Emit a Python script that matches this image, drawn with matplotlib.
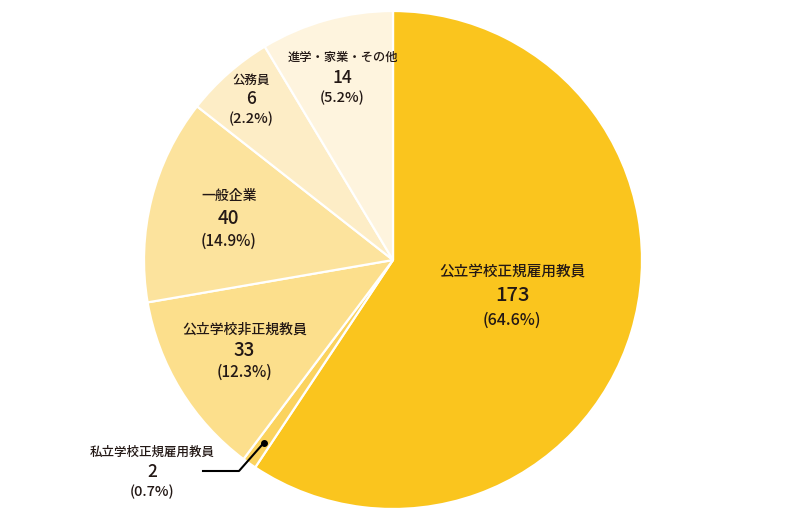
import numpy as np
import matplotlib
matplotlib.use('Agg')
import matplotlib.pyplot as plt

plt.rcParams['font.family'] = ['Noto Sans CJK JP', 'DejaVu Sans']
plt.rcParams['font.weight'] = 'medium'

# data
categories = ['公立学校正規雇用教員', '私立学校正規雇用教員', '公立学校非正規教員',
              '一般企業', '公務員', '進学・家業・その他']
counts = [173, 2, 33, 40, 6, 14]
percents = [64.6, 0.7, 12.3, 14.9, 2.2, 5.2]
# slice angles as they are drawn in the picture (degrees, not proportional to counts)
drawn_angle = [213.6, 3.3, 43.3, 47.9, 20.9, 31.0]

colors = ['#FAC51E', '#FBD35E', '#FCDF8C', '#FCE39D', '#FDEDC6', '#FEF4DE']
text_color = '#231815'

W, H = 788, 525
fig = plt.figure(figsize=(W / 100, H / 100), dpi=100)
ax = fig.add_axes([0, 0, 1, 1])

cx, cy, R = 393, H - 260, 249
wedges, _ = ax.pie(drawn_angle, startangle=90, counterclock=False,
                   center=(cx, cy), radius=R, colors=colors,
                   wedgeprops=dict(edgecolor='white', linewidth=1.6))
ax.set_xlim(0, W)
ax.set_ylim(0, H)
ax.set_aspect('equal')
ax.axis('off')

# label radius (fraction of R), font sizes (name, count, pct), line gap in px
label_r = [0.50, None, 0.70, 0.68, 0.86, 0.76]
fs = [(10.5, 14.5, 11.5), (9, 12.5, 10.5), (10, 13.5, 11), (10, 13.5, 11),
      (9, 12.5, 10.5), (8.8, 12.5, 10.5)]
gap = [24, 20, 21, 23, 19, 20]


def put_label(x, y, i):
    f = fs[i]
    g = gap[i]
    ax.text(x, y + g, categories[i], ha='center', va='center',
            fontsize=f[0], color=text_color)
    ax.text(x, y, str(counts[i]), ha='center', va='center',
            fontsize=f[1], color=text_color)
    ax.text(x, y - g, '(%.1f%%)' % percents[i], ha='center', va='center',
            fontsize=f[2], color=text_color)


for i, w in enumerate(wedges):
    mid = np.deg2rad((w.theta1 + w.theta2) / 2)
    if label_r[i] is None:
        # small slice: leader line to the outside label
        px = cx + 0.90 * R * np.cos(mid)
        py = cy + 0.90 * R * np.sin(mid)
        ax.plot([px, 239, 203], [py, H - 471, H - 471], color='black', lw=1.5)
        ax.plot(px, py, 'o', color='black', ms=4)
        put_label(152, H - 472, i)
        continue
    x = cx + label_r[i] * R * np.cos(mid)
    y = cy + label_r[i] * R * np.sin(mid)
    put_label(x, y, i)

fig.savefig('out.png', dpi=100)
